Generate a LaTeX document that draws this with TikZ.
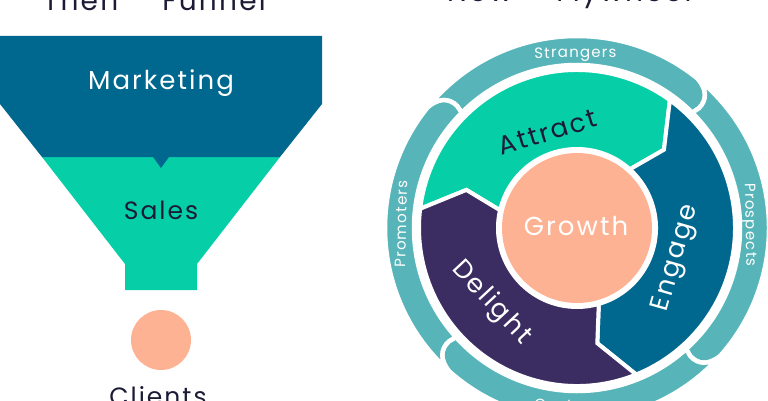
\documentclass[tikz,border=0pt]{standalone}
\usepackage{fontspec}
\newfontfamily\pop{Poppins}[LetterSpace=8]
\definecolor{fblue}{HTML}{00688F}
\definecolor{fgreen}{HTML}{06CFA8}
\definecolor{fpurple}{HTML}{3B2D62}
\definecolor{fpeach}{HTML}{FDB393}
\definecolor{fring}{HTML}{57B5B9}
\definecolor{fdark}{HTML}{1C1B36}
\newcommand\flyringseg[2]{%
  \filldraw[fring, draw=white, line width=4.5pt]
    (#1+5:192pt) arc[start angle=#1+5, end angle=#2+5, radius=192pt]
    .. controls (#2+1:190pt) and (#2-1.5:183pt) .. (#2-1.5:171pt)
    -- (#2-1:163pt)
    arc[start angle=#2-1, end angle=#1-1, radius=163pt]
    -- (#1-1.5:171pt)
    .. controls (#1-1.5:183pt) and (#1+1:190pt) .. (#1+5:192pt) -- cycle;}
\newcommand\flymidseg[3]{%
  \filldraw[#1, draw=white, line width=4pt, line join=miter]
    (#2+12:158pt) arc[start angle=#2+12, end angle=#3+12, radius=158pt]
    -- (#3:117pt) -- (#3+6:79pt)
    arc[start angle=#3+6, end angle=#2+6, radius=79pt]
    -- (#2:117pt) -- cycle;}
\begin{document}
\begin{tikzpicture}[x=1pt,y=1pt,
  lbl/.style={font=\pop\fontsize{26}{30}\selectfont, inner sep=0pt},
  ttl/.style={font=\pop\fontsize{28}{32}\selectfont, inner sep=0pt, text=fdark},
  ringlbl/.style={font=\pop\fontsize{15}{18}\selectfont, inner sep=0pt, text=white}]
\useasboundingbox (0,0) rectangle (768,400);
\clip (0,0) rectangle (768,400);
% titles
\node[ttl, anchor=base west] (ttlthen) at (43,389) {Then \raisebox{6pt}{—} Funnel};
\node[ttl, anchor=base west] (ttlnow) at (447,398) {Now — Flywheel};
% funnel
\fill[fgreen] (42,243) -- (280,243) -- (197,136) -- (197,110) -- (125,110) -- (125,136) -- cycle;
\fill[fblue] (0,364) -- (322,364) -- (322,296) -- (280,243) -- (169,243) -- (161,232) -- (153,243) -- (42,243) -- (0,296) -- cycle;
\node[lbl, text=white, anchor=base] (marketing) at (161,311) {Marketing};
\node[lbl, text=fdark, anchor=base, font=\pop\fontsize{25}{30}\selectfont] (sales) at (161,181) {Sales};
\fill[fpeach] (161,60) circle[radius=30pt];
\node[lbl, text=fdark, anchor=base, font=\pop\fontsize{25}{30}\selectfont] (clients) at (158,-5) {Clients};
% flywheel
\begin{scope}[shift={(577,172)}]
  \flyringseg{136}{46}
  \flyringseg{46}{-47}
  \flyringseg{-47}{-137}
  \flyringseg{223}{136}
  \flymidseg{fgreen}{161}{42}
  \flymidseg{fblue}{42}{-80}
  \flymidseg{fpurple}{-80}{-199}
  \fill[fpeach] (0,0) circle[radius=75pt];
  \node[lbl, text=white, anchor=base] (growth) at (-1,-7) {Growth};
  \node[lbl, text=fdark, rotate=17] (attract) at (107:100pt) {Attract};
  \node[lbl, text=white, rotate=74] (engage) at (-17:104pt) {Engage};
  \node[lbl, text=white, rotate=-47] (delight) at (221:114pt) {Delight};
  \node[ringlbl, rotate=0.5] (strangers) at (90.5:173.5pt) {Strangers};
  \node[ringlbl, rotate=-89] (prospects) at (1:172pt) {Prospects};
  \node[ringlbl, rotate=88.7] (promoters) at (178.7:176pt) {Promoters};
  \node[ringlbl, rotate=-2] (customers) at (-89:178pt) {Customers};
\end{scope}
\end{tikzpicture}
\end{document}
